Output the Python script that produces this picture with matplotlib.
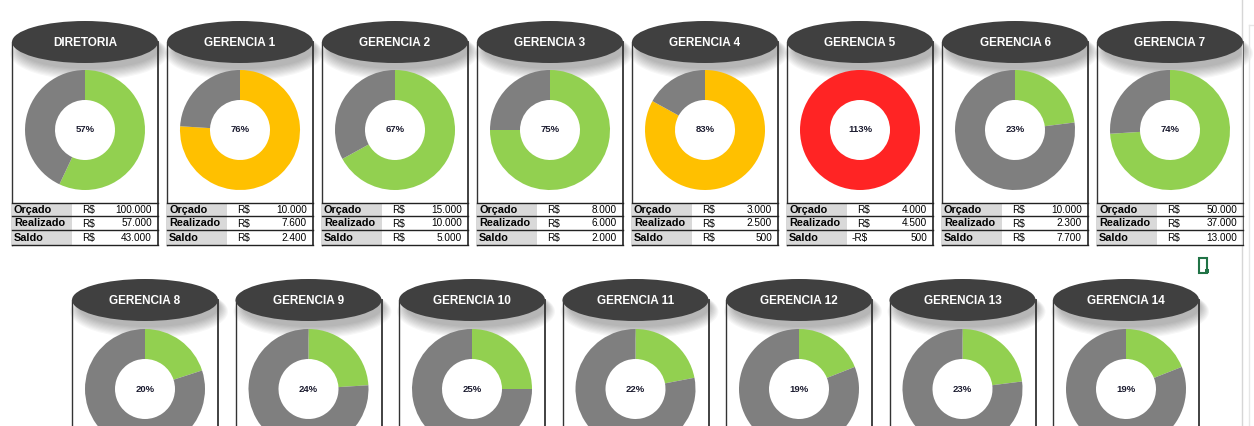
import matplotlib.pyplot as plt
from matplotlib.patches import Ellipse, Rectangle

# linha de cima: diretoria + gerencias 1..7
nomes_topo = ['DIRETORIA', 'GERENCIA 1', 'GERENCIA 2', 'GERENCIA 3',
              'GERENCIA 4', 'GERENCIA 5', 'GERENCIA 6', 'GERENCIA 7']
orcado = [100000, 10000, 15000, 8000, 3000, 4000, 10000, 50000]
realizado = [57000, 7600, 10000, 6000, 2500, 4500, 2300, 37000]
saldo = [43000, 2400, 5000, 2000, 500, -500, 7700, 13000]
pct_topo = [57, 76, 67, 75, 83, 113, 23, 74]

# linha de baixo: gerencias 8..14 (tabela fica fora da imagem)
nomes_baixo = ['GERENCIA 8', 'GERENCIA 9', 'GERENCIA 10', 'GERENCIA 11',
               'GERENCIA 12', 'GERENCIA 13', 'GERENCIA 14']
pct_baixo = [20, 24, 25, 22, 19, 23, 19]

linhas_tabela = ['Orçado', 'Realizado', 'Saldo']

VERDE = '#92d050'
AMARELO = '#ffc000'
VERMELHO = '#ff2424'
CINZA = '#7f7f7f'


def cor(p):
    if p > 100:
        return VERMELHO
    if p >= 76:
        return AMARELO
    return VERDE


def moeda(v):
    return f'{abs(v):,}'.replace(',', '.')


W, H = 1254, 426
fig = plt.figure(figsize=(W / 100, H / 100), dpi=100)
bg = fig.add_axes([0, 0, 1, 1])
bg.set_xlim(0, W)
bg.set_ylim(H, 0)
bg.axis('off')

LARG = 146  # largura de cada painel


def cabecalho(x0, cy, nome, y_fim):
    cx = x0 + LARG / 2
    # sombra embaixo do titulo
    for k in range(10):
        bg.add_patch(Ellipse((cx + 4, cy + 7 + k * 0.5), LARG - 6 + k * 2, 40 + k * 1.5,
                             color='black', alpha=0.03, lw=0, zorder=1))
    bg.plot([x0, x0], [cy, y_fim], color='#333333', lw=1, zorder=2)
    bg.plot([x0 + LARG, x0 + LARG], [cy, y_fim], color='#333333', lw=1.3, zorder=2)
    bg.add_patch(Ellipse((cx, cy), LARG, 42, fc='#404040', lw=0, zorder=3))
    bg.text(cx, cy + 1, nome, color='white', fontsize=8.5, fontweight='bold',
            ha='center', va='center', family='Liberation Sans', zorder=4)


def rosca(cx, cy, p):
    r = 60
    ax = fig.add_axes([(cx - r) / W, 1 - (cy + r) / H, 2 * r / W, 2 * r / H])
    v = min(p, 100)
    ax.pie([v, 100 - v], colors=[cor(p), CINZA], startangle=90, counterclock=False,
           wedgeprops=dict(width=0.5, linewidth=0))
    ax.set_xlim(-1, 1)
    ax.set_ylim(-1, 1)
    ax.text(0, 0, f'{p}%', ha='center', va='center', fontsize=6.8,
            fontweight='bold', color='#1c1c30', family='Liberation Sans')


def tabela(x0, o, r, s):
    ys = [203, 216, 230, 245]
    bg.add_patch(Rectangle((x0, ys[0]), 60, ys[-1] - ys[0], fc='#d9d9d9', lw=0, zorder=2))
    for y in ys:
        bg.plot([x0, x0 + LARG], [y, y], color='#222222', lw=1, zorder=3)
    valores = [o, r, s]
    for i, rot in enumerate(linhas_tabela):
        ym = (ys[i] + ys[i + 1]) / 2 + 0.5
        bg.text(x0 + 2, ym, rot, fontsize=7.8, fontweight='bold', va='center',
                family='Liberation Sans', zorder=4)
        prefixo = '-R$' if valores[i] < 0 else 'R$'
        bg.text(x0 + 70 - (5 if valores[i] < 0 else 0), ym, prefixo, fontsize=7.2,
                va='center', family='Liberation Sans', zorder=4)
        bg.text(x0 + 140, ym, moeda(valores[i]), fontsize=7.2, va='center', ha='right',
                family='Liberation Sans', zorder=4)


for i, nome in enumerate(nomes_topo):
    x0 = 12 + 155 * i
    cabecalho(x0, 42, nome, 245)
    rosca(x0 + LARG / 2, 130, pct_topo[i])
    tabela(x0, orcado[i], realizado[i], saldo[i])

for j, nome in enumerate(nomes_baixo):
    x0 = 72 + 163.5 * j
    cabecalho(x0, 300, nome, H)
    rosca(x0 + LARG / 2, 389, pct_baixo[j])

# barra de rolagem e icone do excel na borda direita
bg.plot([1242, 1242], [0, H], color='#d6d6d6', lw=1)
bg.plot([1249, 1249], [25, H], color='#e6e6e6', lw=1)
bg.plot([1249, W], [25, 25], color='#e6e6e6', lw=1)
bg.add_patch(Rectangle((1199, 258), 8, 15, fc='none', ec='#217346', lw=1.5))
bg.add_patch(Rectangle((1205, 269), 4, 4, fc='#217346', lw=0))

fig.savefig('out.png', dpi=100)
